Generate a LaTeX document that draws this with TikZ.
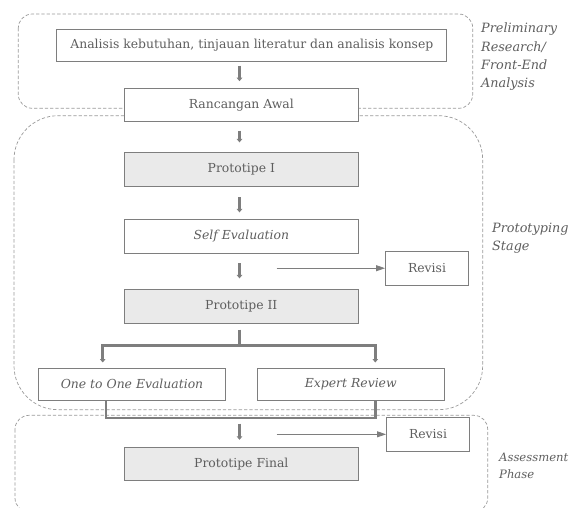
\documentclass[tikz,border=0pt]{standalone}
\usepackage{fontspec}
\setmainfont{DejaVu Serif}
\usepackage{tikz}
\usetikzlibrary{arrows.meta}
\definecolor{txtgray}{HTML}{5E5E5E}
\definecolor{boxgray}{HTML}{7E7E7E}
\definecolor{fillgray}{HTML}{EAEAEA}
\definecolor{dashgray}{HTML}{9A9A9A}

\begin{document}
\begin{tikzpicture}[x=1pt,y=-1pt,
        box/.style={draw=boxgray,line width=0.9pt,text=txtgray,font=\fontsize{12.4}{14}\selectfont,
                    minimum height=33.5pt,inner sep=0pt},
        protobox/.style={box,fill=fillgray,minimum width=234pt},
        revbox/.style={box,fill=white,minimum width=83pt,minimum height=34pt},
        evalbox/.style={box,minimum width=187pt,minimum height=32.7pt,font=\fontsize{12.4}{14}\selectfont\itshape},
        phase/.style={draw=dashgray,line width=0.7pt,dash pattern=on 3.3pt off 2pt},
        phaselabel/.style={anchor=north west,align=left,text=txtgray,
                    font=\fontsize{12.8}{18.3}\selectfont\itshape,inner sep=0pt},
        thick arrow/.style={draw=boxgray,line width=2.8pt,-{Triangle[length=3.5pt,width=5.5pt]}},
        thick line/.style={draw=boxgray,line width=2.8pt},
        thin arrow/.style={draw=boxgray,line width=0.8pt,-{Triangle[length=9pt,width=6pt]}}]
    \useasboundingbox (0,0) rectangle (572,507);

    % phase frames
    \draw[phase,rounded corners=14pt] (18.3,14) rectangle (472.7,108.3);
    \draw[phase,rounded corners=44pt] (14,115.7) rectangle (482.7,409.7);
    \draw[phase,rounded corners=14pt] (15,415.3) rectangle (487.7,512);

    \node[phaselabel] (lprelim) at (481,23) {Preliminary\\Research/\\Front-End\\Analysis};
    \node[phaselabel] (lproto) at (492,223) {Prototyping\\Stage};
    \node[phaselabel,font=\fontsize{11.6}{16.5}\selectfont\itshape] (lassess) at (499,453) {Assessment\\Phase};

    % boxes
    \node[box,minimum width=390pt,minimum height=31.7pt] (analisis) at (251.9,45.2)
        {Analisis kebutuhan, tinjauan literatur dan analisis konsep};
    \node[box,minimum width=234pt,fill=white] (awal) at (241.3,105) {Rancangan Awal};
    \node[protobox] (p1) at (241.3,169.3) {Prototipe I};
    \node[box,minimum width=234pt] (self) at (241.3,236.2) {\itshape Self Evaluation};
    \node[revbox] (revisiA) at (427,268.2) {Revisi};
    \node[protobox] (p2) at (241.3,306.3) {Prototipe II};
    \node[evalbox] (oto) at (132,384.3) {One to One Evaluation};
    \node[evalbox] (expert) at (350.8,384.3) {Expert Review};
    \node[revbox] (revisiB) at (428,434.3) {Revisi};
    \node[protobox] (pfinal) at (241.3,463.7) {Prototipe Final};

    % branch points
    \coordinate (split) at (239.5,345.7);
    \coordinate (joinL) at (106,418);
    \coordinate (joinR) at (375.3,418);
    \coordinate (revA) at (276.7,268.2);
    \coordinate (revB) at (276.7,434.3);

    % arrows
    \draw[thick arrow,shorten <=4pt,shorten >=6.6pt] (239.5,0 |- analisis.south) -- (239.5,0 |- awal.north);
    \draw[thick arrow,shorten <=8.3pt,shorten >=9.7pt] (239.5,0 |- awal.south) -- (239.5,0 |- p1.north);
    \draw[thick arrow,shorten <=10.7pt,shorten >=6.6pt] (239.5,0 |- p1.south) -- (239.5,0 |- self.north);
    \draw[thick arrow,shorten <=10pt,shorten >=10.7pt] (239.5,0 |- self.south) -- (239.5,0 |- p2.north);
    \draw[thin arrow] (revA) -- (revisiA.west);

    \draw[thick line,shorten <=6pt] (239.5,0 |- p2.south) -- (split);
    \draw[thick arrow,shorten >=5pt] (split) -| (102.7,0 |- oto.north);
    \draw[thick arrow,shorten >=5pt] (split) -| (375.3,0 |- expert.north);

    \draw[thick line] (106,0 |- oto.south) -- (joinL) -- (joinR) -- (375.3,0 |- expert.south);
    \draw[thick arrow,shorten <=5.7pt,shorten >=6.7pt] (239.5,0 |- joinL) -- (239.5,0 |- pfinal.north);
    \draw[thin arrow] (revB) -- (revisiB.west);
\end{tikzpicture}
\end{document}
